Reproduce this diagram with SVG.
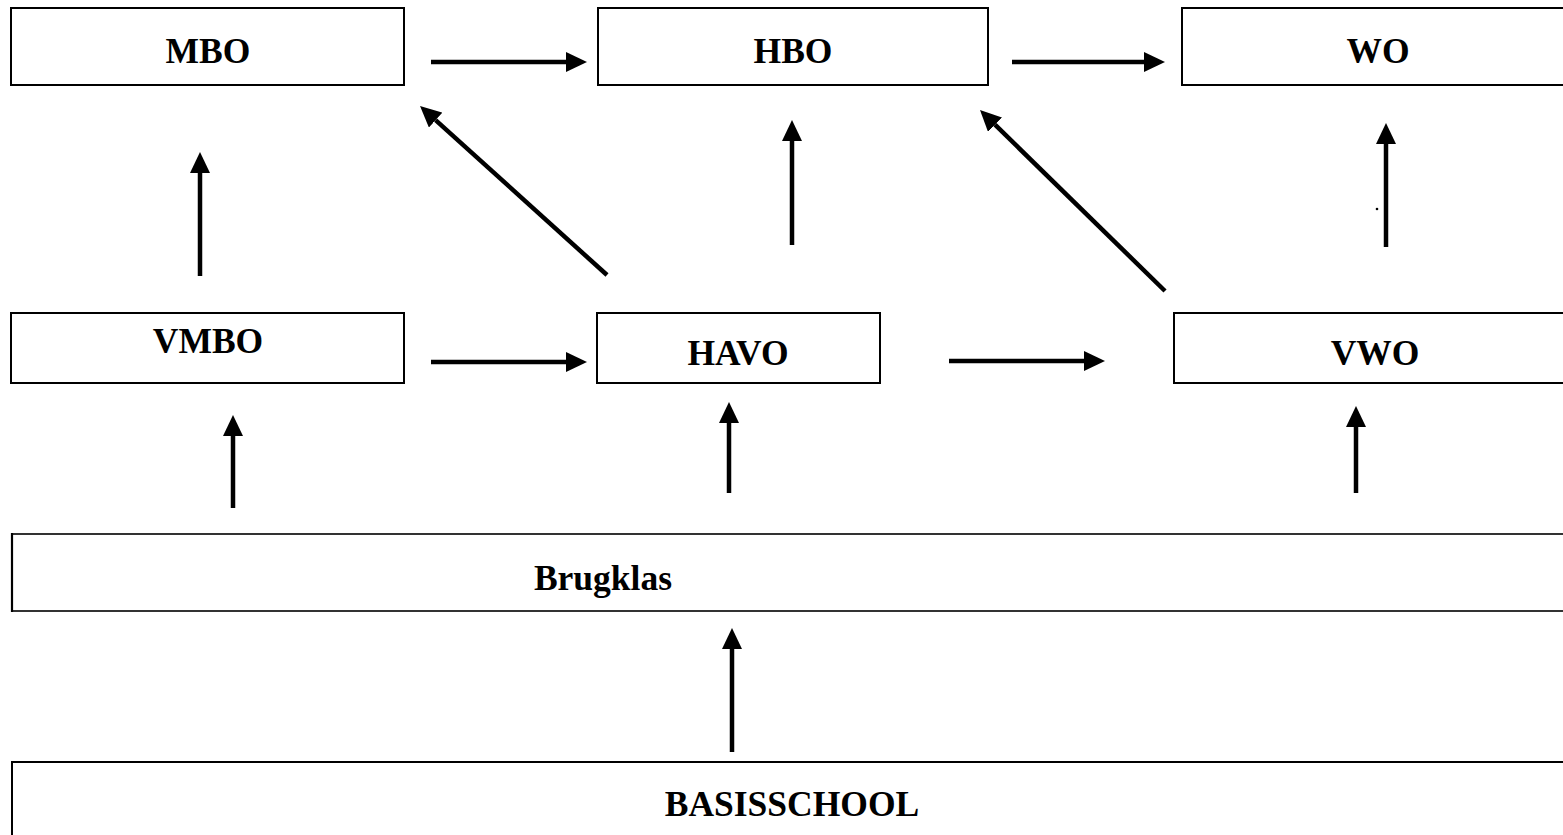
<svg xmlns="http://www.w3.org/2000/svg" width="1563" height="835" viewBox="0 0 1563 835">
<style>
.box{fill:#fff;stroke:#000;stroke-width:2}
.lbl{font-family:"Liberation Serif","Times New Roman",serif;font-weight:bold;font-size:35.5px;text-anchor:middle;fill:#000}
.conn{stroke:#000;stroke-width:4.5;fill:none;marker-end:url(#ah)}
</style>
<defs>
<marker id="ah" markerUnits="userSpaceOnUse" markerWidth="21" markerHeight="20" refX="0" refY="10" orient="auto" viewBox="0 0 21 20">
<path d="M0,0 L21,10 L0,20 Z" fill="#000"/>
</marker>
</defs>
<rect width="1563" height="835" fill="#fff"/>
<g id="MBO"><rect class="box" x="11" y="8" width="393" height="77"/><text class="lbl" x="208" y="63">MBO</text></g>
<g id="HBO"><rect class="box" x="598" y="8" width="390" height="77"/><text class="lbl" x="793" y="63">HBO</text></g>
<g id="WO"><rect class="box" x="1182" y="8" width="400" height="77"/><text class="lbl" x="1378" y="63">WO</text></g>
<g id="VMBO"><rect class="box" x="11" y="313" width="393" height="70"/><text class="lbl" x="208" y="353">VMBO</text></g>
<g id="HAVO"><rect class="box" x="597" y="313" width="283" height="70"/><text class="lbl" x="738" y="365">HAVO</text></g>
<g id="VWO"><rect class="box" x="1174" y="313" width="400" height="70"/><text class="lbl" x="1375" y="365">VWO</text></g>
<g id="Brugklas"><rect class="box" x="12" y="534" width="1600" height="77" style="stroke-width:1.6"/><line x1="12" y1="533" x2="12" y2="612" stroke="#000" stroke-width="2.2"/><text class="lbl" x="603" y="590">Brugklas</text></g>
<g id="BASISSCHOOL"><rect class="box" x="12" y="762" width="1600" height="100"/><text class="lbl" x="792" y="816">BASISSCHOOL</text></g>
<g id="connectors">
<line class="conn" x1="431" y1="62" x2="566" y2="62"/>
<line class="conn" x1="1012" y1="62" x2="1144" y2="62"/>
<line class="conn" x1="431" y1="362" x2="566" y2="362"/>
<line class="conn" x1="949" y1="361" x2="1084" y2="361"/>
<line class="conn" x1="200" y1="276" x2="200" y2="173"/>
<line class="conn" x1="607" y1="275" x2="435.6" y2="120.1"/>
<line class="conn" x1="792" y1="245" x2="792" y2="141"/>
<line class="conn" x1="1165" y1="291" x2="995" y2="124.7"/>
<line class="conn" x1="1386" y1="247" x2="1386" y2="144"/>
<line class="conn" x1="233" y1="508" x2="233" y2="436"/>
<line class="conn" x1="729" y1="493" x2="729" y2="423"/>
<line class="conn" x1="1356" y1="493" x2="1356" y2="427"/>
<line class="conn" x1="732" y1="752" x2="732" y2="649"/>
</g>
<circle cx="1377" cy="209" r="1.3" fill="#000"/>
</svg>
